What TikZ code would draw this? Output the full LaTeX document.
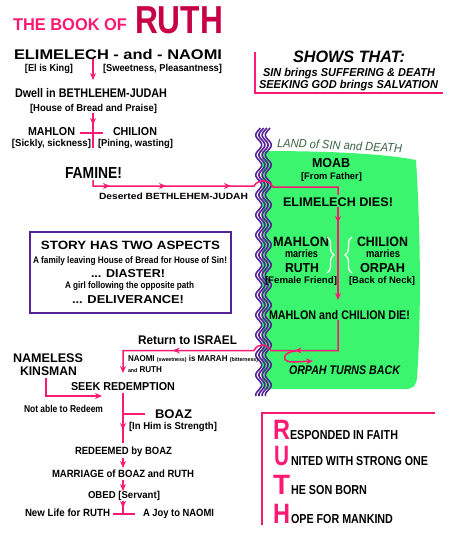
\documentclass[tikz,border=0pt]{standalone}
\usepackage{fontspec}
\setmainfont{Liberation Sans}
\usetikzlibrary{arrows.meta,decorations.markings,decorations.pathreplacing}
\definecolor{pk}{RGB}{250,25,115}
\definecolor{crim}{RGB}{200,0,70}
\definecolor{pur}{RGB}{85,35,150}
\definecolor{grn}{RGB}{60,245,110}
\definecolor{lnd}{RGB}{55,100,65}
\newcommand\tx[3]{\fontsize{#1}{#1}\selectfont\bfseries\resizebox{#2pt}{\height}{#3}}
\newcommand\txi[3]{\fontsize{#1}{#1}\selectfont\bfseries\itshape\resizebox{#2pt}{\height}{#3}}
\newcommand\txl[3]{\fontsize{#1}{#1}\selectfont\itshape\resizebox{#2pt}{\height}{#3}}
\newcommand\sm[1]{{\fontsize{5.5}{5.5}\selectfont #1}}
\begin{document}
\begin{tikzpicture}[x=1pt,y=-1pt,>={Stealth[length=7pt,width=6pt]},
  lbl/.style={anchor=base west,inner sep=0pt,outer sep=0pt},
  conn/.style={color=pk,line width=1.5pt},
  ma/.style={postaction={decorate,decoration={markings,mark=at position #1 with {\arrow{>}}}}},
  wave/.style={draw=pur,line width=1.6pt}]
\useasboundingbox (0,0) rectangle (457,533);
\fill[white] (0,0) rectangle (457,533);

% green land of Moab
\fill[grn] (262,151) .. controls (320,151) and (380,153) .. (416,160)
  .. controls (421,240) and (421,320) .. (417,378)
  .. controls (416,386) and (413,389) .. (405,389) -- (262,389) -- cycle;

% wavy border
\foreach \o in {-4.8,-1.6,1.6,4.8}
  \draw[wave] plot[domain=128:396,samples=135,variable=\t] ({263.5+\o+3*sin(18*\t)},{\t});

% title
\node[lbl,text=pk] (title1) at (13,30) {\tx{17}{114}{THE BOOK OF}};
\node[lbl,text=crim] (title2) at (135,33) {\tx{39}{88}{RUTH}};

% left column texts
\node[lbl] (elim) at (14,59) {\tx{14}{208}{ELIMELECH - and - NAOMI}};
\node[lbl] (elk) at (25,71) {\tx{10}{48}{[El is King]}};
\node[lbl] (swe) at (103,71) {\tx{10}{119}{[Sweetness, Pleasantness]}};
\node[lbl] (dwell) at (15,97) {\tx{12.5}{152}{Dwell in BETHLEHEM-JUDAH}};
\node[lbl] (house) at (30,111) {\tx{10}{127}{[House of Bread and Praise]}};
\node[lbl] (mahlon) at (28,135) {\tx{11.5}{47}{MAHLON}};
\node[lbl] (chilion) at (113,135) {\tx{11.5}{44}{CHILION}};
\node[lbl] (sick) at (12,146) {\tx{10}{79}{[Sickly, sickness]}};
\node[lbl] (pining) at (98,146) {\tx{10}{75}{[Pining, wasting]}};
\node[lbl] (famine) at (65,178) {\tx{16}{57}{FAMINE!}};
\node[lbl] (desert) at (99,199) {\tx{9}{149}{Deserted BETHLEHEM-JUDAH}};

% shows that
\node[lbl] (shows) at (293,62) {\txi{16.5}{112}{SHOWS THAT:}};
\node[lbl] (sin) at (263,76) {\txi{11.5}{172}{SIN brings SUFFERING \& DEATH}};
\node[lbl] (seek) at (259,88) {\txi{11.5}{179}{SEEKING GOD brings SALVATION}};
\draw[conn] (255,52) -- (255,93) -- (443,93);

% Moab texts
\node[lbl,text=lnd,rotate=-2.5] (land) at (277,147) {\txl{12}{125}{LAND of SIN and DEATH}};
\node[lbl] (moab) at (312,167.5) {\tx{13}{38}{MOAB}};
\node[lbl] (from) at (301,179) {\tx{9.5}{61}{[From Father]}};
\node[lbl] (edies) at (283,206) {\tx{12.5}{110}{ELIMELECH DIES!}};
\node[lbl] (mahlon2) at (273,246) {\tx{13.5}{56}{MAHLON}};
\node[lbl] (marries1) at (285,257) {\tx{11}{33}{marries}};
\node[lbl] (ruth2) at (285,272) {\tx{13}{34}{RUTH}};
\node[lbl] (female) at (265,283) {\tx{9.5}{72}{[Female Friend]}};
\node[lbl] (chilion2) at (357,246) {\tx{13.5}{51}{CHILION}};
\node[lbl] (marries2) at (366,257) {\tx{11}{34}{marries}};
\node[lbl] (orpah) at (360,272) {\tx{13}{45}{ORPAH}};
\node[lbl] (neck) at (349,283) {\tx{9.5}{66}{[Back of Neck]}};
\draw[white,line width=1.3pt,decorate,decoration={brace,amplitude=7pt}] (327,237) -- (327,273);
\draw[white,line width=1.3pt,decorate,decoration={brace,amplitude=7pt}] (352,273) -- (352,237);
\node[lbl] (mcdie) at (269,319) {\tx{12.5}{141}{MAHLON and CHILION DIE!}};
\node[lbl] (orpahback) at (289,374) {\txi{12.5}{111}{ORPAH TURNS BACK}};

% story box
\node[draw=pur,line width=1.8pt,inner sep=0pt,minimum width=201pt,minimum height=81pt,anchor=north west] (storybox) at (29,231) {};
\node[lbl] (story) at (41,249.5) {\tx{12}{179}{STORY HAS TWO ASPECTS}};
\node[lbl] (family) at (33,263) {\tx{9.5}{194}{A family leaving House of Bread for House of Sin!}};
\node[lbl] (diaster) at (91,277) {\tx{11.5}{74}{... DIASTER!}};
\node[lbl] (girl) at (65,288) {\tx{9.5}{129}{A girl following the opposite path}};
\node[lbl] (deliv) at (72,303) {\tx{11.5}{112}{... DELIVERANCE!}};

% return
\node[lbl] (ret) at (138,344) {\tx{12.5}{99}{Return to ISRAEL}};
\node[lbl] (naomi) at (128,361) {\tx{8.5}{130}{NAOMI \sm{(sweetness)} is MARAH \sm{(bitterness)}}};
\node[lbl] (andruth) at (128,372) {\tx{8.5}{34}{\sm{and} RUTH}};
\node[lbl] (nameless) at (13,362) {\tx{12.5}{70}{NAMELESS}};
\node[lbl] (kinsman) at (20,375) {\tx{12.5}{57}{KINSMAN}};
\node[lbl] (seekr) at (71,390) {\tx{11.5}{104}{SEEK REDEMPTION}};
\node[lbl] (notable) at (24,412) {\tx{10}{79}{Not able to Redeem}};
\node[lbl] (boaz) at (155,418) {\tx{12.5}{37}{BOAZ}};
\node[lbl] (inhim) at (129,429) {\tx{10}{88}{[In Him is Strength]}};
\node[lbl] (redeemed) at (75,454) {\tx{10.5}{97}{REDEEMED by BOAZ}};
\node[lbl] (marriage) at (52,477) {\tx{10.5}{142}{MARRIAGE of BOAZ and RUTH}};
\node[lbl] (obed) at (88,498) {\tx{10}{72}{OBED [Servant]}};
\node[lbl] (newlife) at (25,516) {\tx{10.5}{85}{New Life for RUTH}};
\node[lbl] (joy) at (143,516) {\tx{10.5}{71}{A Joy to NAOMI}};

% acrostic
\draw[conn] (435,413) -- (262,413) -- (262,525);
\node[lbl,text=pk] (r) at (273,439) {\tx{28}{17}{R}};
\node[lbl,text=pk] (u) at (274,465) {\tx{28}{15}{U}};
\node[lbl,text=pk] (t) at (273,494) {\tx{28}{17}{T}};
\node[lbl,text=pk] (h) at (273,523) {\tx{28}{17}{H}};
\node[lbl] (rr) at (290,439) {\tx{13}{108}{ESPONDED IN FAITH}};
\node[lbl] (uu) at (291,465) {\tx{13}{137}{NITED WITH STRONG ONE}};
\node[lbl] (tt) at (291,494) {\tx{13}{76}{HE SON BORN}};
\node[lbl] (hh) at (291,523) {\tx{13}{102}{OPE FOR MANKIND}};

% connectors
\coordinate (a1) at (93,59); \coordinate (a2) at (93,80);
\draw[conn,->] (a1) -- (a2);
\coordinate (b1) at (93,113); \coordinate (b2) at (93,148);
\draw[conn,ma=12pt] (b1) -- (b2);
\coordinate (x1) at (80,133); \coordinate (x2) at (103,133);
\draw[conn] (x1) -- (x2);
\coordinate (c1) at (93,180); \coordinate (c2) at (93,186); \coordinate (c3) at (254,186);
\coordinate (c4) at (273,187); \coordinate (c5) at (338,187); \coordinate (c6) at (338,195);
\draw[conn,ma=23pt,ma=79pt,ma=144pt] (c1) -- (c2) -- (c3) .. controls (258,179) and (269,179) .. (c4) -- (c5) -- (c6);
\coordinate (d1) at (338,207); \coordinate (d2) at (338,300);
\draw[conn,ma=16pt,->] (d1) -- (d2);
\coordinate (e1) at (338,320); \coordinate (e2) at (338,350.5); \coordinate (e3) at (271,350.5);
\coordinate (e4) at (254,350.5); \coordinate (e5) at (123,350.5); \coordinate (e6) at (123,373);
\draw[conn,ma=74pt,ma=200pt,->] (e1) -- (e2) -- (e3) .. controls (266,343) and (258,343) .. (e4) -- (e5) -- (e6);
\coordinate (o1) at (296,351); \coordinate (o2) at (294,362); \coordinate (o3) at (313,361);
\draw[conn,->] (o1) .. controls (281,352) and (281,363) .. (o2) -- (o3);
\coordinate (f1) at (123,393); \coordinate (f2) at (123,443);
\draw[conn,ma=37pt] (f1) -- (f2);
\coordinate (g1) at (123,414); \coordinate (g2) at (145,414);
\draw[conn] (g1) -- (g2);
\coordinate (h1) at (123,458); \coordinate (h2) at (123,468);
\draw[conn,->] (h1) -- (h2);
\coordinate (i1) at (123,480); \coordinate (i2) at (123,491);
\draw[conn,->] (i1) -- (i2);
\coordinate (j1) at (123,501); \coordinate (j2) at (123,514);
\draw[conn,ma=7pt] (j1) -- (j2);
\coordinate (k1) at (113,514); \coordinate (k2) at (135,514);
\draw[conn] (k1) -- (k2);
\coordinate (n1) at (46,378); \coordinate (n2) at (46,396); \coordinate (n3) at (102,396);
\draw[conn,->] (n1) -- (n2) -- (n3);
\end{tikzpicture}
\end{document}
